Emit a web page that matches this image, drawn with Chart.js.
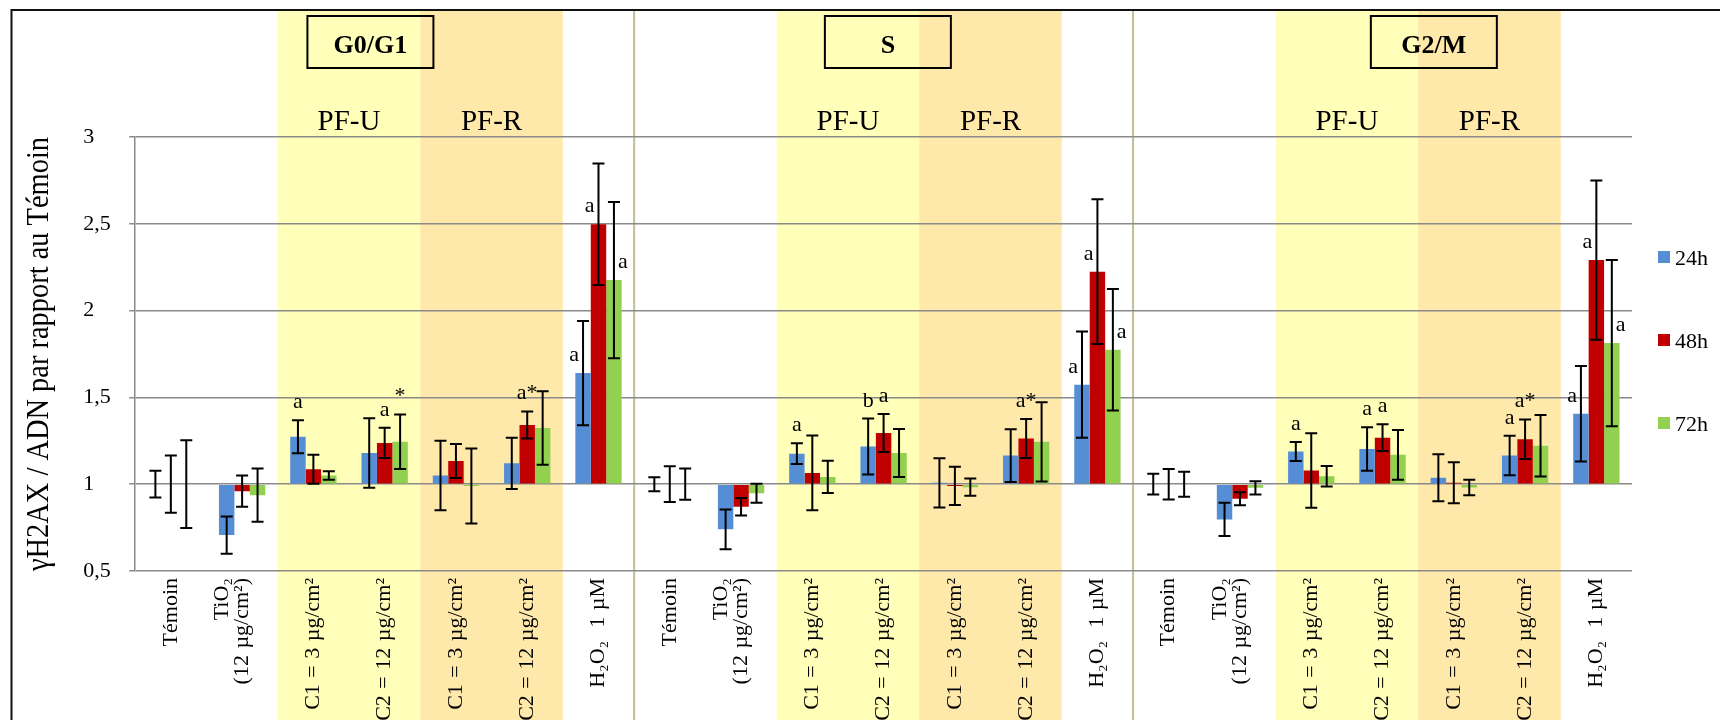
<!DOCTYPE html>
<html>
<head>
<meta charset="utf-8">
<script src="https://cdn.jsdelivr.net/npm/chart.js@4.4.1/dist/chart.umd.min.js"></script>
<style>
  html, body { margin: 0; padding: 0; background: #fff; }
  #wrap { width: 1720px; height: 720px; overflow: hidden; }
</style>
</head>
<body>
<div id="wrap"><canvas id="chart" width="1720" height="720"></canvas></div>
<script>
// categories, repeated for each cell-cycle phase
const treatmentLabels = [
    "Témoin",
    ["TiO₂", "(12 µg/cm²)"],
    "C1 = 3 µg/cm²",
    "C2 = 12 µg/cm²",
    "C1 = 3 µg/cm²",
    "C2 = 12 µg/cm²",
    "H₂O₂  1 µM"
];
const phases = ["G0/G1", "S", "G2/M"];
const bands = ["PF-U", "PF-R"];
const seriesNames = ["24h", "48h", "72h"];
const categories = [...treatmentLabels, ...treatmentLabels, ...treatmentLabels];

// mean ratios (G0/G1, S, G2/M)
const values24h = [1, 0.707, 1.274, 1.18, 1.05, 1.12, 1.64,
                   1, 0.74, 1.176, 1.217, 1.008, 1.165, 1.573,
                   1, 0.797, 1.188, 1.203, 1.037, 1.165, 1.406];
const values48h = [1, 0.96, 1.086, 1.238, 1.134, 1.341, 2.497,
                   1, 0.87, 1.065, 1.295, 0.99, 1.263, 2.224,
                   1, 0.916, 1.079, 1.268, 1.008, 1.259, 2.291];
const values72h = [1, 0.937, 1.05, 1.245, 0.99, 1.324, 2.176,
                   1, 0.948, 1.042, 1.18, 0.983, 1.244, 1.774,
                   1, 0.979, 1.046, 1.169, 0.981, 1.221, 1.813];

// error bar half-widths
const errors24h = [0.077, 0.107, 0.095, 0.2, 0.2, 0.147, 0.3,
                   0.04, 0.114, 0.06, 0.161, 0.142, 0.152, 0.306,
                   0.06, 0.096, 0.055, 0.125, 0.135, 0.114, 0.275];
const errors48h = [0.165, 0.09, 0.083, 0.087, 0.098, 0.078, 0.35,
                   0.103, 0.05, 0.215, 0.11, 0.11, 0.112, 0.417,
                   0.088, 0.037, 0.214, 0.077, 0.118, 0.114, 0.459];
const errors72h = [0.253, 0.153, 0.025, 0.157, 0.216, 0.212, 0.45,
                   0.09, 0.055, 0.093, 0.138, 0.05, 0.228, 0.35,
                   0.072, 0.038, 0.059, 0.143, 0.045, 0.177, 0.479];

const yTicks = [0.5, 1, 1.5, 2, 2.5, 3];

// significance letters: [category, series, text, side]
const letters = [
    [2, 0, "a", "top"], [3, 1, "a", "top"], [3, 2, "*", "top"], [5, 1, "a*", "top"],
    [6, 0, "a", "left"], [6, 1, "a", "left"], [6, 2, "a", "right"],
    [9, 0, "a", "top"], [10, 0, "b", "top"], [10, 1, "a", "top"], [12, 1, "a*", "top"],
    [13, 0, "a", "left"], [13, 1, "a", "left"], [13, 2, "a", "right"],
    [16, 0, "a", "top"], [17, 0, "a", "top"], [17, 1, "a", "top"],
    [19, 0, "a", "top"], [19, 1, "a*", "top"],
    [20, 0, "a", "left"], [20, 1, "a", "left"], [20, 2, "a", "right"]
];

const SERIF = '"Liberation Serif", "Times New Roman", serif';
const colors = ["#558ED5", "#C00000", "#92D050"];
const bandColors = ["#FFFFB9", "#FFE9AA"];
const boxCenters = [3.3, 10.56, 18.22]; // in category units from the left of the plot

// shading, separators, frame
const backdrop = {
    id: "backdrop",
    beforeDraw(chart) {
        const { ctx, scales: { x } } = chart;
        const w = x.width / categories.length;
        const edge = i => x.left + i * w;
        ctx.save();
        ctx.fillStyle = "#fff";
        ctx.fillRect(0, 0, chart.width, chart.height);
        for (let g = 0; g < phases.length; g++) {
            const base = g * treatmentLabels.length;
            bands.forEach((b, k) => {
                ctx.fillStyle = bandColors[k];
                ctx.fillRect(edge(base + 2 + 2 * k), 11, 2 * w, chart.height);
            });
        }
        ctx.strokeStyle = "#C4BC96";
        ctx.lineWidth = 2;
        [7, 14].forEach(i => {
            ctx.beginPath();
            ctx.moveTo(edge(i), 11);
            ctx.lineTo(edge(i), chart.height);
            ctx.stroke();
        });
        ctx.strokeStyle = "#111";
        ctx.lineWidth = 2;
        ctx.beginPath();
        ctx.moveTo(11.5, chart.height);
        ctx.lineTo(11.5, 10);
        ctx.lineTo(chart.width, 10);
        ctx.stroke();
        ctx.restore();
    }
};

// error bars, letters, category labels, headers, legend
const overlay = {
    id: "overlay",
    afterDatasetsDraw(chart) {
        const { ctx, scales: { x, y } } = chart;
        ctx.save();
        ctx.strokeStyle = "#000";
        ctx.lineWidth = 2;
        chart.data.datasets.forEach((ds, d) => {
            chart.getDatasetMeta(d).data.forEach((bar, i) => {
                const top = y.getPixelForValue(ds.data[i] + ds.errors[i]);
                const bot = y.getPixelForValue(ds.data[i] - ds.errors[i]);
                ctx.beginPath();
                ctx.moveTo(bar.x, top); ctx.lineTo(bar.x, bot);
                ctx.moveTo(bar.x - 6, top); ctx.lineTo(bar.x + 6, top);
                ctx.moveTo(bar.x - 6, bot); ctx.lineTo(bar.x + 6, bot);
                ctx.stroke();
            });
        });

        ctx.fillStyle = "#000";
        ctx.font = "22px " + SERIF;
        ctx.textBaseline = "alphabetic";
        letters.forEach(([cat, s, text, side]) => {
            const ds = chart.data.datasets[s];
            const bar = chart.getDatasetMeta(s).data[cat];
            if (side === "top") {
                ctx.textAlign = "center";
                ctx.fillText(text, bar.x, y.getPixelForValue(ds.data[cat] + ds.errors[cat]) - 12);
            } else {
                ctx.textAlign = side === "left" ? "right" : "left";
                ctx.fillText(text, bar.x + (side === "left" ? -4 : 4), bar.y - 12);
            }
        });

        // rotated category labels; the last line sits on the tick
        ctx.font = "22px " + SERIF;
        ctx.wordSpacing = "1px";
        ctx.textAlign = "right";
        ctx.textBaseline = "middle";
        categories.forEach((label, i) => {
            const lines = Array.isArray(label) ? label : [label];
            ctx.save();
            ctx.translate(x.getPixelForValue(i), x.top + 7);
            ctx.rotate(-Math.PI / 2);
            lines.forEach((line, j) => ctx.fillText(line, 0, (j - lines.length + 1) * 20));
            ctx.restore();
        });
        ctx.wordSpacing = "0px";

        const w = x.width / categories.length;
        ctx.textAlign = "center";
        ctx.textBaseline = "alphabetic";
        ctx.font = "29px " + SERIF;
        for (let g = 0; g < phases.length; g++) {
            const base = g * treatmentLabels.length;
            bands.forEach((b, k) => {
                ctx.fillText(b, x.left + (base + 3 + 2 * k) * w, 130);
            });
        }

        ctx.font = "bold 26px " + SERIF;
        ctx.lineWidth = 2;
        phases.forEach((p, g) => {
            const cx = x.left + boxCenters[g] * w;
            ctx.strokeRect(cx - 63, 16, 126, 52);
            ctx.fillText(p, cx, 53);
        });

        // legend
        const midY = (chart.chartArea.top + chart.chartArea.bottom) / 2 - 14;
        ctx.font = "22px " + SERIF;
        ctx.textAlign = "left";
        seriesNames.forEach((name, i) => {
            const cy = midY + (i - 1) * 83;
            ctx.fillStyle = colors[i];
            ctx.fillRect(chart.chartArea.right + 26, cy - 6, 12, 12);
            ctx.fillStyle = "#000";
            ctx.fillText(name, chart.chartArea.right + 43, cy + 8);
        });
        ctx.restore();
    }
};

new Chart(document.getElementById("chart"), {
    type: "bar",
    data: {
        labels: categories,
        datasets: [
            { label: seriesNames[0], data: values24h, errors: errors24h, backgroundColor: colors[0] },
            { label: seriesNames[1], data: values48h, errors: errors48h, backgroundColor: colors[1] },
            { label: seriesNames[2], data: values72h, errors: errors72h, backgroundColor: colors[2] }
        ]
    },
    options: {
        responsive: false,
        animation: false,
        devicePixelRatio: 1,
        datasets: {
            bar: { base: 1, categoryPercentage: 0.65, barPercentage: 1, borderWidth: 0 }
        },
        layout: { padding: { left: 14, right: 88, top: 137, bottom: 0 } },
        plugins: {
            legend: { display: false },
            tooltip: { enabled: false },
            title: {
                display: true,
                position: "left",
                fullSize: false,
                text: "γH2AX / ADN par rapport au Témoin",
                color: "#000",
                font: { family: SERIF, size: 31, weight: "normal" },
                padding: { top: 7, bottom: 25 }
            }
        },
        scales: {
            x: {
                grid: { display: false, drawTicks: false },
                border: { display: false },
                ticks: { display: false },
                afterFit: scale => { scale.height = 149; }
            },
            y: {
                min: yTicks[0],
                max: yTicks[yTicks.length - 1],
                grid: { color: "#8A8A8A", lineWidth: 1.5, tickLength: 6 },
                border: { color: "#8A8A8A", width: 1.5 },
                ticks: {
                    stepSize: yTicks[1] - yTicks[0],
                    padding: 20,
                    crossAlign: "far",
                    color: "#000",
                    font: { family: SERIF, size: 22 },
                    callback: v => String(v).replace(".", ",")
                },
                afterFit: scale => { scale.width = 52; }
            }
        }
    },
    plugins: [backdrop, overlay]
});
</script>
</body>
</html>
